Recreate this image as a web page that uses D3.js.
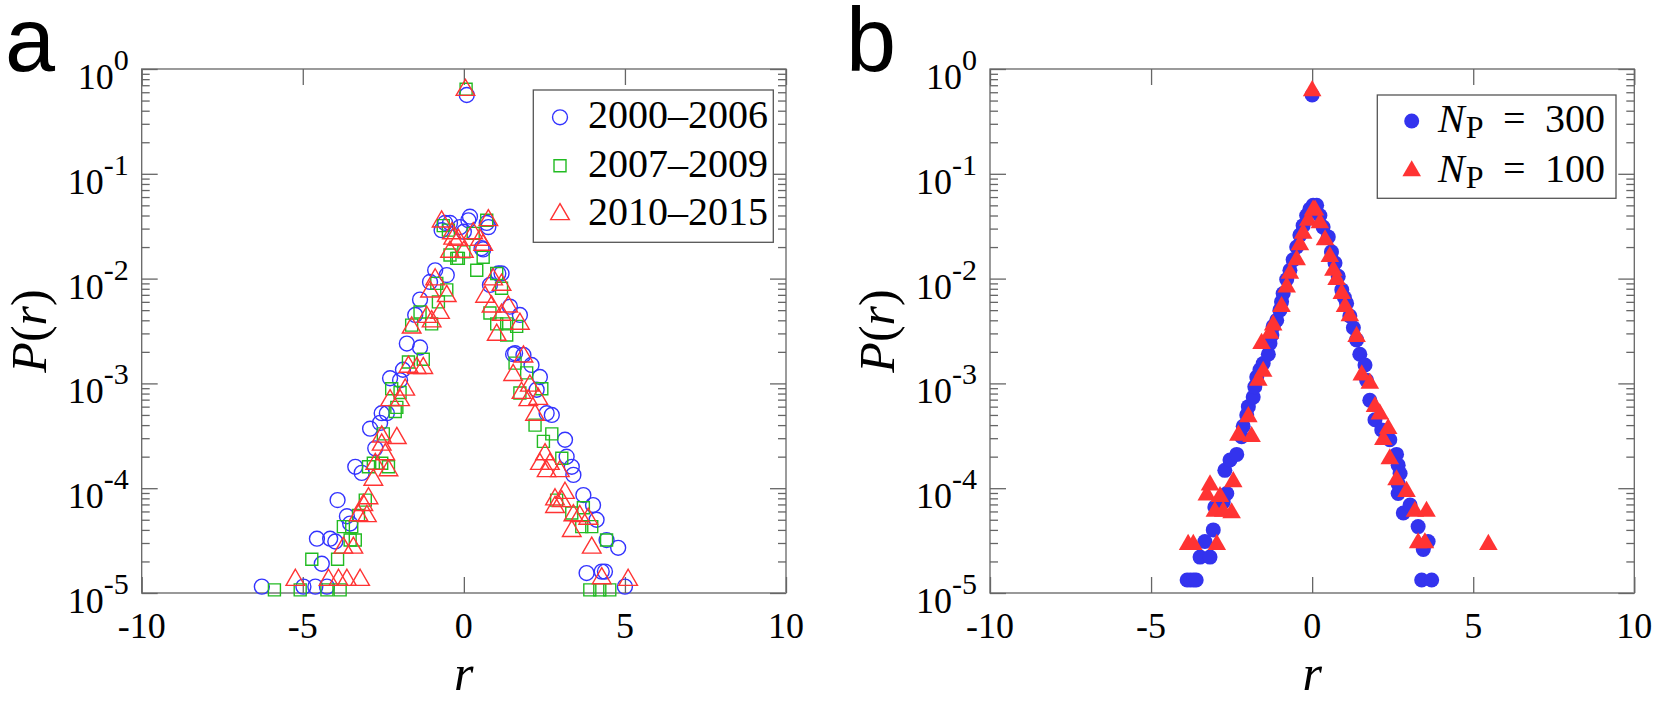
<!DOCTYPE html>
<html>
<head>
<meta charset="utf-8">
<script src="https://cdn.jsdelivr.net/npm/d3@7"></script>
<style>
  html, body { margin: 0; padding: 0; background: #fff; }
  svg { display: block; }
  .serif { font-family: 'Liberation Serif', 'DejaVu Serif', 'Noto Serif', 'Times New Roman', Times, 'Nimbus Roman', FreeSerif, serif; }
  .sans { font-family: 'Liberation Sans', Arial, Helvetica, sans-serif; }
</style>
</head>
<body>
<svg id="fig" width="1661" height="701"></svg>
<script>
// ---- data: [r, P(r)] ----
var xTicks = [ -10, -5, 0, 5, 10 ],
    yDecades = [ 0, -1, -2, -3, -4, -5 ];

var legendA = [ '2000\u20132006', '2007\u20132009', '2010\u20132015' ],
    legendB = [ 300, 100 ];

var s2000 = [
  [-6.27,1.15e-5],[-4.98,1.15e-5],[-4.61,1.15e-5],[-4.25,1.15e-5],
  [-4.41,1.9e-5],[-4.56,3.3e-5],[-4.15,3.3e-5],[-3.99,3.1e-5],
  [-3.63,5.4e-5],[-3.53,4.6e-5],[-3.92,7.7e-5],[-3.37,1.6e-4],[-3.17,1.4e-4],
  [-2.75,2.4e-4],[-2.91,3.7e-4],[-2.6,4.2e-4],[-2.55,5.2e-4],[-2.39,5.2e-4],
  [-2.29,1.12e-3],[-1.98,1.07e-3],[-1.89,1.35e-3],[-1.77,2.4e-3],[-1.36,2.2e-3],
  [-1.51,4.5e-3],[-1.36,6.3e-3],[-1.05,9.3e-3],[-0.89,1.2e-2],[-0.53,1.08e-2],
  [-0.43,3.4e-2],[-0.12,3.1e-2],[0.14,3.6e-2],[-0.58,3.4e-2],[0.19,3.9e-2],[0.71,3.4e-2],
  [0.6,1.9e-2],[-0.69,2.9e-2],[0.76,3.1e-2],[0.55,1.95e-2],[0.0,2.8e-2],
  [1.07,1.12e-2],[1.17,1.12e-2],[0.81,8.7e-3],[1.43,5.4e-3],[1.74,4.5e-3],
  [1.53,1.9e-3],[1.59,1.94e-3],[1.85,1.87e-3],[2.1,1.5e-3],[2.36,1.15e-3],[2.26,8.7e-4],
  [2.57,5.2e-4],[2.73,5e-4],[3.14,2.9e-4],[3.19,2e-4],[3.35,1.6e-4],[3.4,1.34e-4],
  [3.71,8.6e-5],[4.01,6.9e-5],[4.12,5e-5],[4.43,3.2e-5],[4.79,2.7e-5],
  [3.81,1.55e-5],[4.28,1.6e-5],[4.38,1.6e-5],[5.0,1.15e-5],[0.09,0.565]
];

var s2007 = [
  [-5.88,1.07e-5],[-5.08,1.07e-5],[-4.25,1.07e-5],[-3.84,1.07e-5],
  [-4.72,2.1e-5],[-3.92,2.1e-5],[-3.53,3.2e-5],[-3.37,3.2e-5],[-3.74,4.3e-5],[-3.48,4.3e-5],
  [-3.27,5.5e-5],[-3.06,7.7e-5],[-2.96,1.6e-4],[-2.81,1.73e-4],[-2.55,1.73e-4],[-2.34,1.6e-4],
  [-2.5,3.3e-4],[-2.13,5.4e-4],[-2.08,5.9e-4],[-2.24,8.9e-4],[-1.98,8.2e-4],
  [-1.72,1.6e-3],[-1.26,1.7e-3],[-1.62,3.6e-3],[-1.0,3.7e-3],[-1.36,4.8e-3],
  [-0.79,6e-3],[-0.53,7.8e-3],[-0.84,9e-3],[-0.64,3.2e-2],[-0.43,1.68e-2],[-0.22,1.56e-2],[0.0,1.8e-2],
  [-0.48,2.9e-2],[-0.17,1.56e-2],[0.4,1.2e-2],[0.6,1.6e-2],[0.29,2.7e-2],[0.71,3.6e-2],
  [1.02,1.12e-2],[1.17,8.1e-3],[0.81,4.7e-3],[1.02,3.7e-3],[1.33,2.9e-3],[1.64,3.5e-3],[1.33,3.7e-3],
  [1.59,1.56e-3],[1.95,1.26e-3],[1.74,8.1e-4],[2.42,8.9e-4],[2.21,4e-4],[2.47,2.8e-4],[2.73,3.3e-4],
  [3.04,1.93e-4],[2.88,7.7e-5],[3.35,5.8e-5],[3.71,6.5e-5],[3.66,4.3e-5],[3.97,4.3e-5],[4.43,3.2e-5],
  [3.91,1.07e-5],[4.22,1.07e-5],[4.53,1.07e-5],[0.07,0.64]
];

var s2010 = [
  [-5.23,1.33e-5],[-4.2,1.33e-5],[-3.89,1.33e-5],[-3.63,1.33e-5],[-3.22,1.33e-5],
  [-3.74,2.7e-5],[-3.43,2.7e-5],[-3.27,5.5e-5],[-3.01,5.4e-5],[-2.96,8e-5],[-3.12,6.9e-5],
  [-2.81,1.2e-4],[-2.34,1.48e-4],[-2.75,1.7e-4],[-2.44,2.1e-4],[-2.55,2.6e-4],[-2.08,3e-4],[-2.55,3.1e-4],
  [-2.29,6.9e-4],[-1.98,6.9e-4],[-1.82,8.7e-4],[-1.72,1.44e-3],[-1.46,1.4e-3],[-1.26,1.4e-3],
  [-1.62,3.4e-3],[-1.0,3.9e-3],[-0.74,4.7e-3],[-1.15,4.3e-3],[-1.05,7.5e-3],[-0.53,6.8e-3],[-0.89,9.8e-3],
  [-0.69,3.5e-2],[-0.37,2.7e-2],[-0.43,1.8e-2],[-0.17,2.34e-2],[0.0,1.8e-2],
  [0.76,3.6e-2],[0.29,2.7e-2],[0.5,2.34e-2],[-0.33,2.4e-2],[0.6,2.1e-2],
  [0.66,6.7e-3],[0.91,9.8e-3],[1.17,8.7e-3],[0.86,5.4e-3],[1.38,5.4e-3],[1.17,4.5e-3],[1.74,3.7e-3],[1.02,2.9e-3],
  [1.85,1.8e-3],[1.53,1.2e-3],[1.79,8.1e-4],[2.05,9.5e-4],[2.0,6.9e-4],[2.31,7.1e-4],[2.21,5e-4],
  [2.52,2.1e-4],[2.36,1.7e-4],[2.67,1.7e-4],[2.57,1.45e-4],[2.98,1.45e-4],
  [3.14,9e-5],[2.83,7.8e-5],[3.04,7.5e-5],[2.83,6.6e-5],[3.4,5.5e-5],[3.6,5.4e-5],[3.86,5.1e-5],
  [3.35,3.9e-5],[3.97,2.7e-5],[4.28,1.38e-5],[5.1,1.33e-5],[0.05,0.63]
];

var sN300 = [
  [-3.88,1.33e-5],[-3.78,1.33e-5],[-3.68,1.33e-5],[-3.6,1.33e-5],
  [-3.48,2.2e-5],[-3.17,2.2e-5],[-3.33,3.1e-5],[-3.07,4e-5],[-3.02,6.6e-5],[-2.76,7.4e-5],[-2.65,8.9e-5],
  [-2.71,1.48e-4],[-2.55,1.86e-4],[-2.34,2.1e-4],[-2.19,3.1e-4],[-2.14,3.9e-4],[-2.03,5e-4],[-1.98,6e-4],[-1.83,7.4e-4],[-1.78,9.3e-4],
  [-1.72,1.15e-3],[-1.62,1.35e-3],[-1.52,1.55e-3],[-1.36,1.9e-3],[-1.31,2.4e-3],[-1.25,2.9e-3],[-1.21,3.5e-3],[-1.1,4e-3],[-1.0,5e-3],
  [-0.95,6e-3],[-0.9,7.2e-3],[-0.79,9.8e-3],[-0.69,1.2e-2],[-0.59,1.51e-2],[-0.48,2e-2],[-0.38,2.6e-2],[-0.28,3.2e-2],[-0.17,4e-2],[-0.07,4.6e-2],[0.03,5e-2],
  [0.14,5e-2],[0.24,4e-2],[0.34,3.1e-2],[0.5,2.5e-2],[0.6,1.8e-2],[0.71,1.41e-2],[0.81,1.05e-2],[0.92,7.8e-3],[1.0,6.6e-3],[1.07,5.8e-3],[1.17,4.4e-3],[1.28,3.4e-3],
  [1.38,2.6e-3],[1.48,1.9e-3],[1.64,1.5e-3],[1.69,1.07e-3],[1.79,6.9e-4],[1.95,4.5e-4],[2.16,3.6e-4],[2.41,2.9e-4],[2.62,2.1e-4],[2.67,1.66e-4],
  [2.73,1.38e-4],[2.67,1.1e-4],[2.67,8.9e-5],
  [2.83,5.8e-5],[3.04,6.9e-5],[3.29,4.3e-5],[3.6,3.1e-5],[3.45,2.6e-5],[3.4,1.33e-5],[3.71,1.33e-5],[0.0,0.565]
];

var sN100 = [
  [-3.85,2.9e-5],[-3.69,2.9e-5],[-2.96,2.9e-5],[-3.17,1.07e-4],[-3.27,8.6e-5],[-2.86,8.3e-5],[-3.02,6e-5],[-2.5,5.8e-5],[-2.76,6e-5],
  [-2.45,1.15e-4],[-2.29,3.2e-4],[-1.98,4.8e-4],[-1.88,3.1e-4],[-1.67,1.07e-3],[-1.52,1.3e-3],[-1.57,2.4e-3],[-1.31,3e-3],[-1.21,3.6e-3],
  [-0.95,5.4e-3],[-0.79,8.3e-3],[-0.69,1.12e-2],[-0.48,1.51e-2],[-0.38,2.1e-2],[-0.28,2.7e-2],[-0.12,3.6e-2],[0.03,4.5e-2],
  [0.09,4.5e-2],[0.24,3.4e-2],[0.4,2.34e-2],[0.55,1.62e-2],[0.66,1.2e-2],[0.76,9.8e-3],[0.92,7.2e-3],[1.02,5.4e-3],[1.17,4.4e-3],[1.38,2.8e-3],
  [1.54,1.2e-3],[1.79,1e-3],[1.95,6e-4],[2.1,5.1e-4],[2.36,3.7e-4],[2.21,2.9e-4],[2.41,1.9e-4],[2.62,1.2e-4],[2.93,9.3e-5],
  [3.19,6e-5],[3.55,6e-5],[3.29,3e-5],[3.5,3e-5],[5.47,2.9e-5],[0.0,0.62]
];

var BLUE = '#3333ff', GREEN = '#22bb22', RED = '#ff3333',
    AXIS = '#666';

var svg = d3.select( '#fig' );

var panels = [
  {
    letter: 'a', letterX: 5, left: 141.7, right: 786,
    series: [
      { data: s2000, type: d3.symbolCircle, size: 175, color: BLUE, fill: false, label: legendA[0] },
      { data: s2007, type: d3.symbolSquare, size: 144, color: GREEN, fill: false, label: legendA[1] },
      { data: s2010, type: d3.symbolTriangle, size: 150, color: RED, fill: false, label: legendA[2] }
    ],
    legend: { x: 533.3, y: 90, w: 240, h: 152.3, mx: 560, tx: 588, rows: [ 117.3, 165.7, 214.3 ] }
  },
  {
    letter: 'b', letterX: 846, left: 990, right: 1634.3,
    series: [
      { data: sN300, type: d3.symbolCircle, size: 177, color: '#3333ee', fill: true, n: legendB[0] },
      { data: sN100, type: d3.symbolTriangle, size: 150, color: RED, fill: true, n: legendB[1] }
    ],
    legend: { x: 1377.3, y: 95, w: 238.7, h: 103.3, mx: 1411.7, tx: 1438, rows: [ 121, 171 ] }
  }
];

var TOP = 69, BOTTOM = 593;

panels.forEach( function( p ) {
  var x = d3.scaleLinear().domain( [ -10, 10 ] ).range( [ p.left, p.right ] ),
      y = d3.scaleLog().domain( [ 1e-5, 1 ] ).range( [ BOTTOM, TOP ] ),
      g = svg.append( 'g' ),
      cx = ( p.left + p.right ) / 2,
      cy = ( TOP + BOTTOM ) / 2;

  // frame
  g.append( 'rect' )
    .attr( 'x', p.left ).attr( 'y', TOP )
    .attr( 'width', p.right - p.left ).attr( 'height', BOTTOM - TOP )
    .attr( 'fill', 'none' ).attr( 'stroke', AXIS ).attr( 'stroke-width', 1.3 );
  g.append( 'line' )
    .attr( 'x1', p.left ).attr( 'x2', p.right )
    .attr( 'y1', BOTTOM ).attr( 'y2', BOTTOM )
    .attr( 'stroke', '#999' ).attr( 'stroke-width', 1.8 );

  // ticks, all pointing inward
  var yTickVals = y.ticks(),
      isMajor = function( v ) { return Math.abs( Math.log10( v ) - Math.round( Math.log10( v ) ) ) < 1e-6; };

  [ [ d3.axisBottom( x ), BOTTOM ], [ d3.axisTop( x ), TOP ] ].forEach( function( a ) {
    g.append( 'g' )
      .attr( 'transform', 'translate(0,' + a[ 1 ] + ')' )
      .call( a[ 0 ].tickValues( xTicks ).tickSizeInner( -16 ).tickSizeOuter( 0 ).tickFormat( '' ) )
      .call( function( s ) { s.select( '.domain' ).remove(); } );
  } );

  [ [ d3.axisLeft, p.left ], [ d3.axisRight, p.right ] ].forEach( function( a ) {
    g.append( 'g' )
      .attr( 'transform', 'translate(' + a[ 1 ] + ',0)' )
      .call( a[ 0 ]( y ).tickValues( yTickVals ).tickSizeOuter( 0 ).tickFormat( '' ) )
      .call( function( s ) {
        s.select( '.domain' ).remove();
        s.selectAll( '.tick line' )
          .attr( 'x2', function( d ) {
            var len = isMajor( d ) ? 16 : 8;
            return a[ 0 ] === d3.axisLeft ? len : -len;
          } );
      } );
  } );

  g.selectAll( '.tick line' ).attr( 'stroke', AXIS ).attr( 'stroke-width', 1.3 );

  // x tick labels
  g.selectAll( 'text.xl' )
    .data( xTicks )
    .enter().append( 'text' )
    .attr( 'class', 'xl serif' )
    .attr( 'x', function( d ) { return x( d ); } )
    .attr( 'y', BOTTOM + 45 )
    .attr( 'text-anchor', 'middle' )
    .attr( 'font-size', 36 )
    .text( function( d ) { return d < 0 ? '-' + Math.abs( d ) : d; } );

  // y tick labels 10^k
  var yl = g.selectAll( 'text.yl' )
    .data( yDecades )
    .enter().append( 'text' )
    .attr( 'class', 'yl serif' )
    .attr( 'x', p.left - 13 )
    .attr( 'y', function( d ) { return y( Math.pow( 10, d ) ) + 20; } )
    .attr( 'text-anchor', 'end' )
    .attr( 'font-size', 36 );
  yl.append( 'tspan' ).text( '10' );
  yl.append( 'tspan' )
    .attr( 'font-size', 30 )
    .attr( 'dy', -19 )
    .text( function( d ) { return d === 0 ? '0' : '-' + Math.abs( d ); } );

  // axis titles
  g.append( 'text' )
    .attr( 'class', 'serif' )
    .attr( 'x', cx ).attr( 'y', 690 )
    .attr( 'text-anchor', 'middle' )
    .attr( 'font-size', 50 ).attr( 'font-style', 'italic' )
    .text( 'r' );

  var yt = g.append( 'text' )
    .attr( 'class', 'serif' )
    .attr( 'transform', 'translate(' + ( p.left - 96 ) + ',' + cy + ') rotate(-90)' )
    .attr( 'text-anchor', 'middle' )
    .attr( 'font-size', 50 );
  yt.append( 'tspan' ).attr( 'font-style', 'italic' ).text( 'P' );
  yt.append( 'tspan' ).text( '(' );
  yt.append( 'tspan' ).attr( 'font-style', 'italic' ).text( 'r' );
  yt.append( 'tspan' ).text( ')' );

  // panel letter
  svg.append( 'text' )
    .attr( 'class', 'sans' )
    .attr( 'x', p.letterX ).attr( 'y', 71 )
    .attr( 'font-size', 90 )
    .text( p.letter );

  // markers
  p.series.forEach( function( s ) {
    g.append( 'g' )
      .selectAll( 'path' )
      .data( s.data )
      .enter().append( 'path' )
      .attr( 'transform', function( d ) { return 'translate(' + x( d[ 0 ] ) + ',' + y( d[ 1 ] ) + ')'; } )
      .attr( 'd', d3.symbol().type( s.type ).size( s.size ) )
      .attr( 'fill', s.fill ? s.color : 'none' )
      .attr( 'stroke', s.fill ? 'none' : s.color )
      .attr( 'stroke-width', 1.4 );
  } );

  // legend
  var L = p.legend,
      lg = g.append( 'g' );
  lg.append( 'rect' )
    .attr( 'x', L.x ).attr( 'y', L.y ).attr( 'width', L.w ).attr( 'height', L.h )
    .attr( 'fill', '#fff' ).attr( 'stroke', '#555' ).attr( 'stroke-width', 1.3 );

  p.series.forEach( function( s, i ) {
    lg.append( 'path' )
      .attr( 'transform', 'translate(' + L.mx + ',' + L.rows[ i ] + ')' )
      .attr( 'd', d3.symbol().type( s.type ).size( s.size ) )
      .attr( 'fill', s.fill ? s.color : 'none' )
      .attr( 'stroke', s.fill ? 'none' : s.color )
      .attr( 'stroke-width', 1.4 );

    var t = lg.append( 'text' )
      .attr( 'class', 'serif' )
      .attr( 'x', L.tx ).attr( 'y', L.rows[ i ] + 11 )
      .attr( 'font-size', 40 );
    if( s.label ) {
      t.text( s.label );
    } else {
      t.append( 'tspan' ).attr( 'font-style', 'italic' ).text( 'N' );
      t.append( 'tspan' ).attr( 'font-size', 32 ).attr( 'dy', 6 ).attr( 'dx', 1 ).text( 'P' );
      t.append( 'tspan' ).attr( 'x', L.tx + 65 ).attr( 'dy', -6 ).text( '=' );
      t.append( 'tspan' ).attr( 'x', L.tx + 107 ).text( s.n );
    }
  } );
} );
</script>
</body>
</html>
